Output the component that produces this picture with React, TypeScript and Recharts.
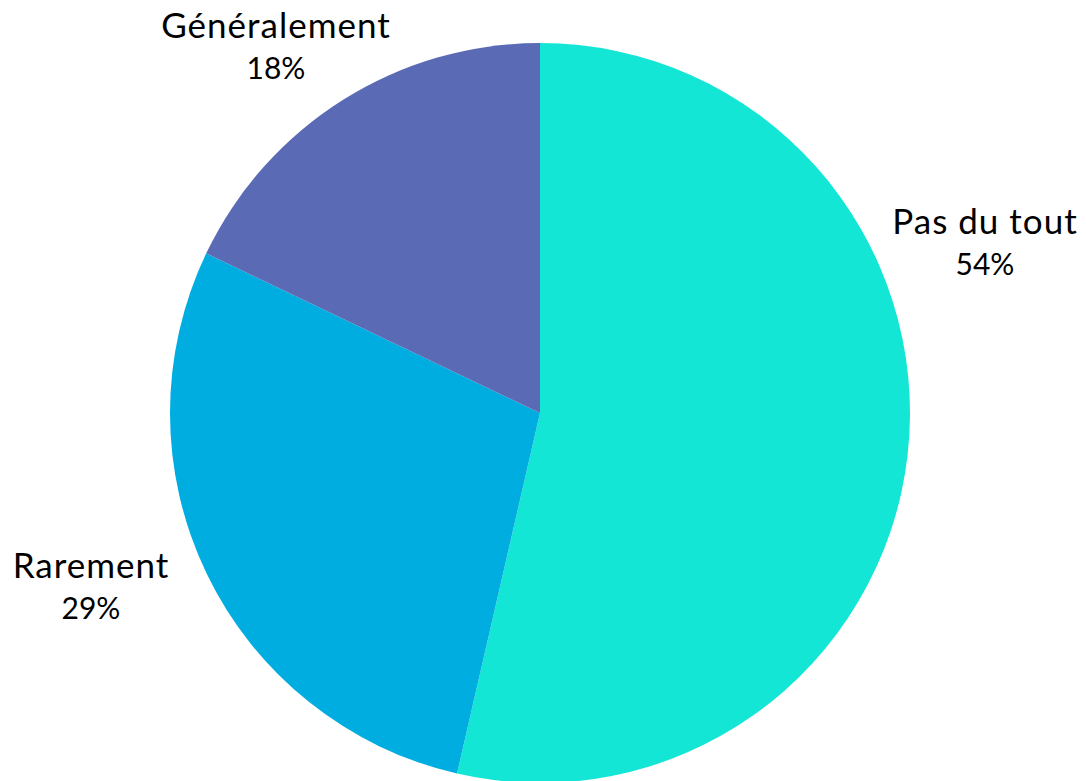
import React from "react";
import { PieChart, Pie, Cell } from "recharts";

const categories = ["Pas du tout", "Rarement", "Généralement"];
const values = [53.6, 28.5, 17.9];
const percentLabels = ["54%", "29%", "18%"];
const colors = ["#14E6D6", "#00ADE0", "#5A6AB4"];

// label placement relative to pie centre (layout only)
const labelOffsets: Record<string, { dx: number; dy: number }> = {
  "Pas du tout": { dx: 445, dy: -179 },
  Rarement: { dx: -449, dy: 165 },
  "Généralement": { dx: -264, dy: -375 },
};

const data = categories.map((name, i) => ({
  name,
  value: values[i],
  pct: percentLabels[i],
}));

const FONT = "Lato, 'Open Sans', sans-serif";

const renderLabel = (props: any) => {
  const { cx, cy, index } = props;
  const d = data[index];
  const off = labelOffsets[d.name];
  const x = cx + off.dx;
  const y = cy + off.dy;
  return (
    <g key={`lbl-${index}`}>
      <text x={x} y={y} textAnchor="middle" fontFamily={FONT} fontSize={35} letterSpacing={1} fill="#000">
        {d.name}
      </text>
      <text x={x} y={y + 41} textAnchor="middle" fontFamily={FONT} fontSize={30} fill="#000">
        {d.pct}
      </text>
    </g>
  );
};

export default function App() {
  return (
    <div style={{ position: "absolute", left: 0, top: 0, width: 1086, height: 781, background: "#fff", overflow: "hidden" }}>
      <PieChart width={1086} height={781} margin={{ top: 0, right: 0, bottom: 0, left: 0 }}>
        <Pie
          data={data}
          dataKey="value"
          nameKey="name"
          cx={540}
          cy={413}
          outerRadius={370}
          startAngle={90}
          endAngle={-270}
          stroke="none"
          label={renderLabel}
          labelLine={false}
          isAnimationActive={false}
        >
          {data.map((d, i) => (
            <Cell key={d.name} fill={colors[i]} />
          ))}
        </Pie>
      </PieChart>
    </div>
  );
}
